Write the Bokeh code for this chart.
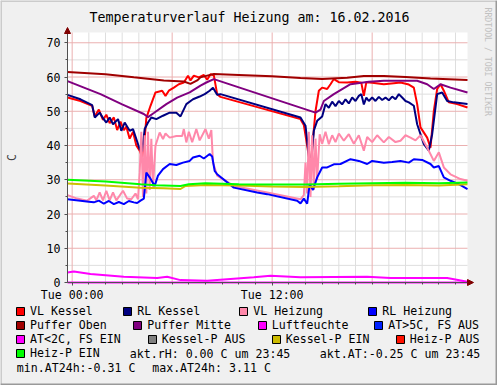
import math
from bokeh.plotting import figure
from bokeh.models import (Range1d, FixedTicker, Legend, LegendItem, Arrow, NormalHead,
                          Label, LinearAxis)
from bokeh.embed import file_html
from bokeh.resources import INLINE

# ---------------- data (hours after Tue 00:00, degrees C) ----------------
TITLE = "Temperaturverlauf Heizung am: 16.02.2016"
WATERMARK = "RRDTOOL / TOBI OETIKER"
Y_LABEL = "C"
X_TICKS = [0, 12]
X_TICK_LABELS = ["Tue 00:00", "Tue 12:00"]
X_GRID_MAJOR = [0, 6, 12, 18]
X_MINOR = [h for h in range(0, 24) if h % 6 != 0]
Y_TICKS = [0, 10, 20, 30, 40, 50, 60, 70]
Y_MINOR = [5, 15, 25, 35, 45, 55, 65]
X_START, X_END = -0.28, 23.72
Y_MAX = 73

VL_KESSEL = [(-0.28, 54.0), (0.5, 53.0), (1.2, 51.6), (1.35, 48.5), (1.6, 50.5), (1.85, 47.5),
             (2.05, 49.0), (2.25, 46.5), (2.5, 48.2), (2.7, 44.5), (2.9, 47.0), (3.1, 44.5),
             (3.25, 45.5), (3.45, 42.0), (3.65, 44.0), (3.85, 40.0), (4.05, 38.5), (4.2, 36.5),
             (4.35, 42.0), (4.45, 48.0), (4.7, 51.6), (5.0, 55.5), (5.4, 56.0), (5.6, 54.5),
             (5.8, 56.0), (6.1, 56.9), (6.4, 57.9), (6.7, 58.4), (6.95, 60.4), (7.1, 59.0),
             (7.3, 60.4), (7.6, 59.9), (7.9, 60.6), (8.1, 59.2), (8.3, 60.8), (8.5, 60.5),
             (8.7, 55.0), (8.9, 54.2), (13.7, 47.7), (13.9, 46.0), (14.1, 40.0), (14.3, 33.5),
             (14.45, 42.0), (14.6, 50.0), (14.8, 56.0), (15.0, 56.9), (15.3, 56.5), (15.5, 57.9),
             (15.7, 59.4), (16.0, 58.5), (16.5, 58.4), (17.0, 58.6), (17.35, 58.3), (17.5, 54.5),
             (17.65, 58.5), (18.0, 58.3), (18.7, 57.9), (19.3, 58.2), (19.7, 58.4), (20.2, 57.8),
             (20.5, 56.9), (20.7, 52.1), (20.9, 45.3), (21.3, 42.3), (21.5, 39.4), (21.7, 50.1),
             (21.9, 56.5), (22.1, 57.9), (22.3, 56.0), (22.6, 52.6), (23.1, 52.1), (23.72, 51.1)]

RL_KESSEL = [(-0.28, 54.8), (0.5, 53.5), (1.2, 51.8), (1.36, 48.2), (1.65, 49.6), (1.85, 48.0),
             (2.05, 46.7), (2.25, 48.2), (2.45, 46.2), (2.75, 47.7), (2.95, 44.3), (3.15, 46.7),
             (3.45, 44.3), (3.65, 44.8), (3.85, 41.9), (4.05, 38.9), (4.2, 38.3), (4.35, 44.8),
             (4.55, 46.7), (4.75, 48.2), (5.05, 47.7), (5.45, 48.7), (5.85, 49.6), (6.25, 49.6),
             (6.5, 48.5), (6.85, 52.1), (7.25, 53.5), (7.65, 54.3), (7.95, 55.0), (8.25, 56.0),
             (8.45, 56.9), (8.7, 54.8), (8.9, 55.0), (13.7, 48.2), (14.0, 45.8), (14.3, 32.6),
             (14.5, 44.3), (14.7, 47.2), (15.0, 48.5), (15.2, 52.1), (15.4, 51.0), (15.6, 52.8),
             (15.8, 51.5), (16.0, 53.0), (16.2, 52.0), (16.4, 53.5), (16.6, 52.3), (16.8, 54.0),
             (17.0, 53.0), (17.2, 54.5), (17.35, 55.0), (17.5, 52.0), (17.65, 54.0), (17.8, 53.0),
             (18.0, 54.0), (18.2, 53.0), (18.4, 54.2), (18.6, 53.3), (18.8, 54.0), (19.0, 53.2),
             (19.2, 54.3), (19.4, 53.5), (19.6, 55.0), (19.8, 54.0), (20.0, 53.0), (20.2, 52.6),
             (20.5, 51.6), (20.7, 46.2), (21.1, 40.4), (21.4, 38.5), (21.6, 43.3), (21.9, 55.0),
             (22.2, 55.5), (22.5, 53.0), (22.9, 52.6), (23.72, 52.1)]

VL_HEIZUNG = [(-0.28, 25.5), (0.3, 24.5), (0.9, 23.9), (1.3, 25.3), (1.45, 24.0), (1.65, 26.3),
              (1.85, 24.0), (2.05, 26.8), (2.25, 24.0), (2.45, 26.3), (2.65, 24.0), (3.05, 26.8),
              (3.3, 24.5), (3.55, 24.3), (3.8, 26.0), (3.95, 24.3), (4.05, 32.0), (4.15, 44.0),
              (4.25, 25.0), (4.35, 43.0), (4.45, 26.0), (4.55, 44.0), (4.65, 27.0), (4.75, 42.0),
              (4.85, 28.0), (5.0, 40.0), (5.25, 43.8), (5.45, 41.9), (5.6, 43.5), (5.85, 42.3),
              (6.25, 42.8), (6.6, 42.8), (6.7, 44.8), (6.85, 40.9), (7.0, 44.0), (7.2, 41.0),
              (7.45, 44.8), (7.65, 41.5), (8.0, 44.8), (8.2, 42.0), (8.35, 44.5), (8.45, 35.0),
              (8.7, 31.2), (9.7, 28.2), (11.7, 26.3), (13.7, 24.3), (13.9, 25.5), (14.0, 35.0),
              (14.1, 26.0), (14.2, 44.0), (14.3, 25.0), (14.4, 43.0), (14.5, 27.0), (14.6, 42.0),
              (14.7, 30.0), (14.85, 43.3), (15.0, 40.5), (15.2, 44.0), (15.4, 40.4), (15.6, 43.0),
              (15.8, 41.0), (16.0, 43.5), (16.3, 41.4), (16.6, 43.3), (16.9, 40.5), (17.2, 43.0),
              (17.5, 38.5), (17.7, 42.5), (18.0, 41.0), (18.3, 43.0), (18.7, 40.9), (19.0, 42.5),
              (19.4, 41.0), (19.7, 41.4), (20.0, 43.0), (20.3, 42.3), (20.6, 41.5), (20.9, 43.0),
              (21.3, 39.4), (21.7, 35.5), (22.0, 38.0), (22.3, 33.6), (22.7, 31.6), (23.3, 30.2),
              (23.72, 29.7)]

RL_HEIZUNG = [(-0.28, 24.3), (0.5, 23.9), (1.0, 23.6), (1.3, 23.4), (1.6, 23.9), (1.9, 23.0),
              (2.2, 23.8), (2.5, 22.9), (2.8, 23.5), (3.1, 22.9), (3.4, 23.8), (3.7, 23.4),
              (3.9, 23.2), (4.1, 23.9), (4.3, 24.5), (4.45, 32.1), (4.65, 30.7), (4.95, 28.2),
              (5.15, 31.2), (5.45, 33.1), (5.85, 34.6), (6.25, 34.3), (6.65, 35.0), (7.05, 35.5),
              (7.25, 36.5), (7.65, 37.0), (7.9, 36.2), (8.25, 37.5), (8.4, 36.8), (8.55, 32.6),
              (8.7, 31.6), (9.7, 27.7), (11.1, 26.3), (11.7, 25.8), (13.5, 23.9), (13.7, 23.1),
              (13.9, 24.5), (14.1, 23.0), (14.25, 28.7), (14.45, 27.0), (14.7, 30.7), (15.0, 33.6),
              (15.3, 33.6), (15.7, 34.5), (16.1, 34.6), (16.7, 36.0), (17.2, 35.5), (17.7, 34.6),
              (18.0, 35.5), (18.7, 35.0), (19.2, 35.2), (19.7, 35.5), (20.2, 35.0), (20.5, 36.0),
              (21.0, 35.8), (21.5, 34.6), (21.7, 33.6), (22.0, 34.0), (22.3, 30.7), (22.7, 29.7),
              (23.2, 28.7), (23.72, 27.3)]

PUFFER_OBEN = [(-0.28, 61.5), (2.0, 60.8), (3.7, 59.9), (5.5, 59.0), (6.7, 58.7), (7.1, 58.0),
               (7.5, 59.0), (7.7, 59.9), (8.1, 60.4), (8.5, 60.9), (10.0, 60.6), (12.0, 60.2),
               (13.7, 59.7), (15.0, 59.4), (16.5, 59.8), (17.5, 60.3), (18.7, 60.3), (20.0, 60.0),
               (21.5, 59.6), (23.72, 59.1)]

PUFFER_MITTE = [(-0.28, 58.8), (1.7, 55.0), (3.0, 52.0), (4.3, 49.2), (4.55, 48.3), (4.9, 49.5),
                (5.65, 52.1), (6.3, 54.0), (7.05, 55.5), (7.7, 57.5), (8.05, 58.4), (8.5, 59.4),
                (14.6, 49.6), (14.9, 50.5), (15.1, 53.0), (15.7, 55.0), (16.7, 57.9), (17.8, 58.6),
                (18.7, 58.9), (19.7, 58.9), (20.7, 58.9), (21.3, 57.9), (21.7, 56.5), (22.1, 57.9),
                (22.7, 56.9), (23.72, 55.5)]

LUFTFEUCHTE = [(-0.28, 0.0), (23.72, 0.0)]

AUSSEN_TEMP = [(-0.28, 2.9), (0.1, 3.2), (1.1, 2.5), (3.1, 1.7), (5.1, 1.3), (5.7, 1.7),
               (6.5, 0.7), (8.1, 0.5), (10.9, 1.5), (11.9, 2.0), (13.7, 1.5), (17.7, 1.7),
               (19.1, 1.3), (22.5, 1.3), (23.72, 0.2)]

KESSEL_P_EIN = [(-0.28, 28.9), (2.0, 28.3), (4.1, 27.7), (5.5, 27.5), (6.5, 27.3), (6.8, 28.2),
                (8.0, 28.5), (10.0, 28.3), (12.0, 28.0), (14.0, 27.9), (16.0, 28.1), (18.0, 28.4),
                (20.0, 28.5), (22.0, 28.3), (23.72, 28.7)]

HEIZ_P_EIN = [(-0.28, 30.0), (2.0, 29.5), (4.1, 28.7), (5.0, 28.4), (6.5, 28.2), (7.0, 28.7),
              (8.0, 29.0), (10.0, 28.7), (12.0, 28.6), (14.0, 28.6), (16.0, 28.8), (18.0, 29.0),
              (20.0, 29.1), (22.0, 29.0), (23.72, 29.2)]

LINES = [
    (VL_KESSEL, "#FF0000"),
    (RL_KESSEL, "#000080"),
    (VL_HEIZUNG, "#FF88AA"),
    (RL_HEIZUNG, "#0000FF"),
    (PUFFER_OBEN, "#A00000"),
    (PUFFER_MITTE, "#800080"),
    (LUFTFEUCHTE, "#FF00FF"),
    (AUSSEN_TEMP, "#FF00FF"),
    (KESSEL_P_EIN, "#CCC000"),
    (HEIZ_P_EIN, "#00FF00"),
]

LEGEND_NAMES = ["VL Kessel", "RL Kessel", "VL Heizung", "RL Heizung",
                "Puffer Oben", "Puffer Mitte", "Luftfeuchte", "AT>5C, FS AUS",
                "AT<2C, FS EIN", "Kessel-P AUS", "Kessel-P EIN", "Heiz-P AUS",
                "Heiz-P EIN"]
LEGEND_COLORS = ["#FF0000", "#000080", "#FF88AA", "#0000FF",
                 "#A00000", "#800080", "#FF00FF", "#0022FF",
                 "#FF00FF", "#808080", "#CCBB00", "#FF1100",
                 "#00FF00"]
INFO_TEXTS = ["akt.rH: 0.00 C um 23:45", "akt.AT:-0.25 C um 23:45",
              "min.AT24h:-0.31 C", "max.AT24h: 3.11 C"]

# ---------------- layout (canvas pixels from top-left) ----------------
W, H = 497, 385
FRAME_L, FRAME_T, FRAME_R, FRAME_B = 67, 32, 467, 282
LEG_X = [16, 123.3, 239.3, 368.3, 16, 133.3, 257.7, 374.3, 16, 147.7, 271.7, 395.7, 16]
LEG_Y = [311, 311, 311, 311, 325, 325, 325, 325, 339.3, 339.3, 339.3, 339.3, 353.3]
INFO_X = [129.3, 319.3, 16.3, 151.7]
INFO_Y = [353.3, 353.3, 367.3, 367.3]
MONO = "DejaVu Sans Mono"
FS = "11.6px"
NAN = float("nan")

# the whole canvas is the frame; the data area is mapped onto the RRD plot area
PX_X = (FRAME_R - FRAME_L) / (X_END - X_START)
PX_Y = (FRAME_B - FRAME_T) / Y_MAX
xr = Range1d(X_START - FRAME_L / PX_X, X_END + (W - FRAME_R) / PX_X)
yr = Range1d(-(H - FRAME_B) / PX_Y, Y_MAX + FRAME_T / PX_Y)

p = figure(width=W, height=H, output_backend="svg", toolbar_location=None,
           x_range=xr, y_range=yr, x_axis_type=None, y_axis_type=None,
           min_border=0, title=None)
p.border_fill_color = "#F0F0F0"
p.background_fill_color = "#F0F0F0"
p.outline_line_color = None
p.grid.visible = False

# 3-D frame of the image
p.segment(x0=[xr.start, xr.start], y0=[yr.end, yr.end], x1=[xr.end, xr.start], y1=[yr.end, yr.start],
          line_color="#CBCBCB", line_width=3)
p.segment(x0=[xr.end, xr.start], y0=[yr.end, yr.start], x1=[xr.end, xr.end], y1=[yr.start, yr.start],
          line_color="#999999", line_width=4)

# plot canvas
p.quad(left=[X_START], right=[X_END], bottom=[0], top=[Y_MAX], fill_color="#FFFFFF", line_color=None)

# grid lines from the tick lists
p.segment(x0=X_MINOR, x1=X_MINOR, y0=[0] * len(X_MINOR), y1=[Y_MAX] * len(X_MINOR),
          line_color="#DEDEDE", line_width=1)
p.segment(x0=[X_START] * len(Y_MINOR), x1=[X_END] * len(Y_MINOR), y0=Y_MINOR, y1=Y_MINOR,
          line_color="#DEDEDE", line_width=1)
p.segment(x0=X_GRID_MAJOR, x1=X_GRID_MAJOR, y0=[0] * len(X_GRID_MAJOR), y1=[Y_MAX] * len(X_GRID_MAJOR),
          line_color="#EBB0B0", line_width=1)
p.segment(x0=[X_START] * len(Y_TICKS), x1=[X_END] * len(Y_TICKS), y0=Y_TICKS, y1=Y_TICKS,
          line_color="#EBB0B0", line_width=1)

# data lines
for data, color in LINES:
    xs = [d[0] for d in data]
    ys = [d[1] for d in data]
    p.line(xs, ys, line_color=color, line_width=2)

# axes drawn at the edges of the data area
xaxis = LinearAxis(fixed_location=0, bounds=(X_START, X_END),
                   ticker=FixedTicker(ticks=X_TICKS, minor_ticks=list(range(0, 24))),
                   major_label_overrides=dict(zip(X_TICKS, X_TICK_LABELS)))
yaxis = LinearAxis(fixed_location=X_START, bounds=(0, Y_MAX),
                   ticker=FixedTicker(ticks=Y_TICKS, minor_ticks=Y_MINOR),
                   axis_label=Y_LABEL)
yaxis.axis_label_standoff = 25
yaxis.axis_label_text_font = MONO
yaxis.axis_label_text_font_size = FS
yaxis.axis_label_text_font_style = "normal"
yaxis.major_label_standoff = 4
xaxis.major_label_standoff = 2
for ax in (xaxis, yaxis):
    ax.axis_line_color = "#505050"
    ax.major_tick_line_color = "#505050"
    ax.minor_tick_line_color = "#505050"
    ax.major_tick_out = 3
    ax.major_tick_in = 0
    ax.minor_tick_out = 2
    ax.minor_tick_in = 0
    ax.major_label_text_font = MONO
    ax.major_label_text_font_size = FS
    ax.major_label_text_color = "#000000"
p.add_layout(xaxis, "below")
p.add_layout(yaxis, "left")

# axis arrows
p.add_layout(Arrow(end=NormalHead(size=6, fill_color="#7F0000", line_color="#7F0000"),
                   x_start=X_START, y_start=Y_MAX, x_end=X_START, y_end=Y_MAX + 5 / PX_Y,
                   line_color="#505050"))
p.add_layout(Arrow(end=NormalHead(size=6, fill_color="#7F0000", line_color="#7F0000"),
                   x_start=X_END, y_start=0, x_end=X_END + 6 / PX_X, y_end=0,
                   line_color="#505050"))

# title and watermark
p.add_layout(Label(x=249, y=H - 17, x_units="screen", y_units="screen", text=TITLE,
                   text_font=MONO, text_font_size="13.3px", text_align="center",
                   text_baseline="middle", text_color="#000000"))
p.add_layout(Label(x=487, y=H - 7, x_units="screen", y_units="screen", text=WATERMARK,
                   text_font=MONO, text_font_size="8.2px", text_align="left",
                   text_baseline="middle", text_color="#C0C0C0", angle=-math.pi / 2))

# legend: one entry per swatch, positioned like the original
for name, color, lx, ly in zip(LEGEND_NAMES, LEGEND_COLORS, LEG_X, LEG_Y):
    r = p.quad(left=[NAN], right=[NAN], top=[NAN], bottom=[NAN], fill_color=color,
               line_color="#000000", line_width=1)
    leg = Legend(items=[LegendItem(label=name, renderers=[r], index=0)],
                 location=(lx - 1, H - ly - 7),
                 padding=0, margin=0, spacing=0, border_line_color=None,
                 background_fill_alpha=0, glyph_width=10, glyph_height=10,
                 label_height=10, label_standoff=5,
                 label_text_font=MONO, label_text_font_size=FS,
                 label_text_color="#000000")
    p.add_layout(leg)

for txt, tx, ty in zip(INFO_TEXTS, INFO_X, INFO_Y):
    p.add_layout(Label(x=tx, y=H - ty, x_units="screen", y_units="screen", text=txt,
                       text_font=MONO, text_font_size=FS, text_align="left",
                       text_baseline="middle", text_color="#000000"))

open("out.html", "w").write(file_html(p, INLINE))
